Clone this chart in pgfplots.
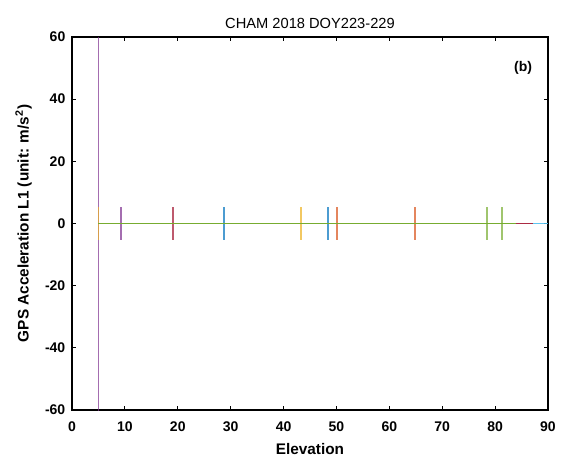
\documentclass[border=0pt]{standalone}
\usepackage{pgfplots}
\pgfplotsset{compat=1.18}
\usepackage{fontspec}
\setmainfont{Liberation Sans}

\definecolor{mblue}{rgb}{0,0.447,0.741}
\definecolor{morange}{rgb}{0.85,0.325,0.098}
\definecolor{myellow}{rgb}{0.929,0.694,0.125}
\definecolor{mpurple}{rgb}{0.494,0.184,0.556}
\definecolor{mgreen}{rgb}{0.466,0.674,0.188}
\definecolor{mcyan}{rgb}{0.301,0.745,0.933}
\definecolor{mred}{rgb}{0.635,0.078,0.184}

\begin{document}
\begin{tikzpicture}
% frame of the whole picture (1 px = 0.75 pt)
\path[use as bounding box] (-54pt,-38.25pt) rectangle (369pt,307.5pt);
\begin{axis}[
  at={(0,0)}, anchor=south west,
  scale only axis, width=357pt, height=279.75pt,
  xmin=0, xmax=90, ymin=-60, ymax=60,
  xtick={0,10,...,90}, ytick={-60,-40,...,60},
  tick align=inside, major tick length=3pt,
  tick style={black, line width=0.8pt},
  axis line style={black, line width=1.3pt},
  /pgf/number format/assume math mode=true,
  tick label style={font=\fontsize{10.5}{12}\selectfont\bfseries},
  xticklabel style={yshift=-5pt},
  yticklabel style={xshift=-1.5pt},
  xlabel={Elevation}, ylabel={GPS Acceleration L1 (unit: m/s\textsuperscript{2})},
  label style={font=\fontsize{11.5}{13}\selectfont\bfseries},
  xlabel style={yshift=-2pt}, ylabel style={yshift=3pt},
  title={CHAM 2018 DOY223-229},
  title style={font=\fontsize{11}{13}\selectfont, yshift=-3pt},
  clip=true,
  every axis plot/.append style={line width=1.3pt, opacity=0.7},
]
\addplot[mpurple] coordinates {(5,-70) (5,70)};
\addplot[myellow] coordinates {(5,-5.3) (5,5.3)};
\addplot[mpurple] coordinates {(9.3,-5.3) (9.3,5.3)};
\addplot[mred] coordinates {(19.1,-5.3) (19.1,5.3)};
\addplot[mblue] coordinates {(28.7,-5.3) (28.7,5.3)};
\addplot[myellow] coordinates {(43.3,-5.3) (43.3,5.3)};
\addplot[mblue] coordinates {(48.4,-5.3) (48.4,5.3)};
\addplot[morange] coordinates {(50.1,-5.3) (50.1,5.3)};
\addplot[morange] coordinates {(64.8,-5.3) (64.8,5.3)};
\addplot[mgreen] coordinates {(78.5,-5.3) (78.5,5.3)};
\addplot[mgreen] coordinates {(81.3,-5.3) (81.3,5.3)};
\addplot[mgreen, opacity=1] coordinates {(5,0) (83.9,0)};
\addplot[mred, opacity=0.9] coordinates {(83.9,0) (87.2,0)};
\addplot[mcyan, opacity=0.9] coordinates {(87.2,0) (90,0)};
\node[font=\fontsize{10.5}{12}\selectfont\bfseries] at (axis cs:85.3,50) {(b)};
\end{axis}
\end{tikzpicture}
\end{document}
